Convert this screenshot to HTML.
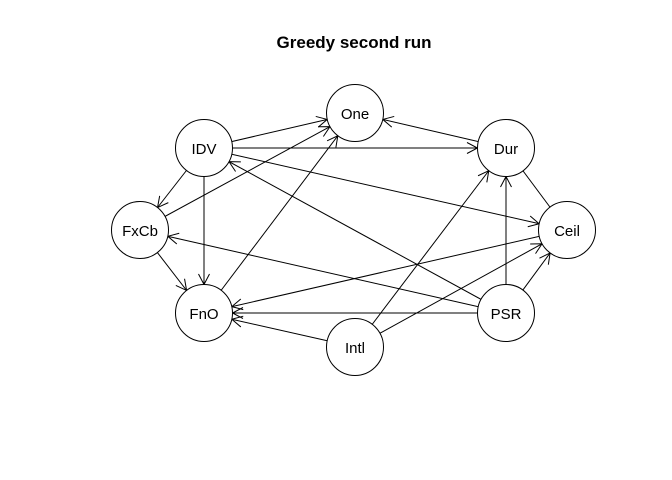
<!DOCTYPE html>
<html><head><meta charset="utf-8"><style>
html,body{margin:0;padding:0;background:#fff;}
svg{display:block;}
text{font-family:"Liberation Sans",Arial,sans-serif;}
</style></head><body>
<svg width="672" height="480" viewBox="0 0 672 480" xmlns="http://www.w3.org/2000/svg">
<defs>
<marker id="a" viewBox="-45 -10 50 20" refX="0" refY="0" markerWidth="50" markerHeight="20" markerUnits="userSpaceOnUse" orient="auto" overflow="visible">
<path d="M-39,-5.5 L-28.5,0 L-39,5.5" fill="none" stroke="#000" stroke-width="1"/>
</marker>
</defs>
<text x="354" y="48" font-size="17" font-weight="bold" text-anchor="middle">Greedy second run</text>
<g stroke="#000" stroke-width="1" fill="none">
<line x1="204" y1="148" x2="355" y2="113" marker-end="url(#a)"/>
<line x1="204" y1="148" x2="506" y2="148" marker-end="url(#a)"/>
<line x1="204" y1="148" x2="567" y2="230" marker-end="url(#a)"/>
<line x1="506" y1="313" x2="204" y2="148" marker-end="url(#a)"/>
<line x1="204" y1="148" x2="140" y2="230" marker-end="url(#a)"/>
<line x1="204" y1="148" x2="204" y2="313" marker-end="url(#a)"/>
<line x1="140" y1="230" x2="355" y2="113" marker-end="url(#a)"/>
<line x1="204" y1="313" x2="355" y2="113" marker-end="url(#a)"/>
<line x1="140" y1="230" x2="204" y2="313" marker-end="url(#a)"/>
<line x1="506" y1="313" x2="140" y2="230" marker-end="url(#a)"/>
<line x1="567" y1="230" x2="204" y2="313" marker-end="url(#a)"/>
<line x1="506" y1="313" x2="204" y2="313" marker-end="url(#a)"/>
<line x1="355" y1="347" x2="204" y2="313" marker-end="url(#a)"/>
<line x1="506" y1="148" x2="355" y2="113" marker-end="url(#a)"/>
<line x1="355" y1="347" x2="506" y2="148" marker-end="url(#a)"/>
<line x1="506" y1="313" x2="506" y2="148" marker-end="url(#a)"/>
<line x1="506" y1="148" x2="567" y2="230"/>
<line x1="355" y1="347" x2="567" y2="230" marker-end="url(#a)"/>
<line x1="506" y1="313" x2="567" y2="230" marker-end="url(#a)"/>
</g>
<g stroke="#000" stroke-width="1" fill="#fff">
<circle cx="355" cy="113" r="28.5"/>
<circle cx="204" cy="148" r="28.5"/>
<circle cx="506" cy="148" r="28.5"/>
<circle cx="140" cy="230" r="28.5"/>
<circle cx="567" cy="230" r="28.5"/>
<circle cx="204" cy="313" r="28.5"/>
<circle cx="506" cy="313" r="28.5"/>
<circle cx="355" cy="347" r="28.5"/>
</g>
<g font-size="15" text-anchor="middle" fill="#000">
<text x="355" y="119">One</text>
<text x="204" y="154">IDV</text>
<text x="506" y="154">Dur</text>
<text x="140" y="236">FxCb</text>
<text x="567" y="236">Ceil</text>
<text x="204" y="319">FnO</text>
<text x="506" y="319">PSR</text>
<text x="355" y="353">Intl</text>
</g>
</svg>
</body></html>
